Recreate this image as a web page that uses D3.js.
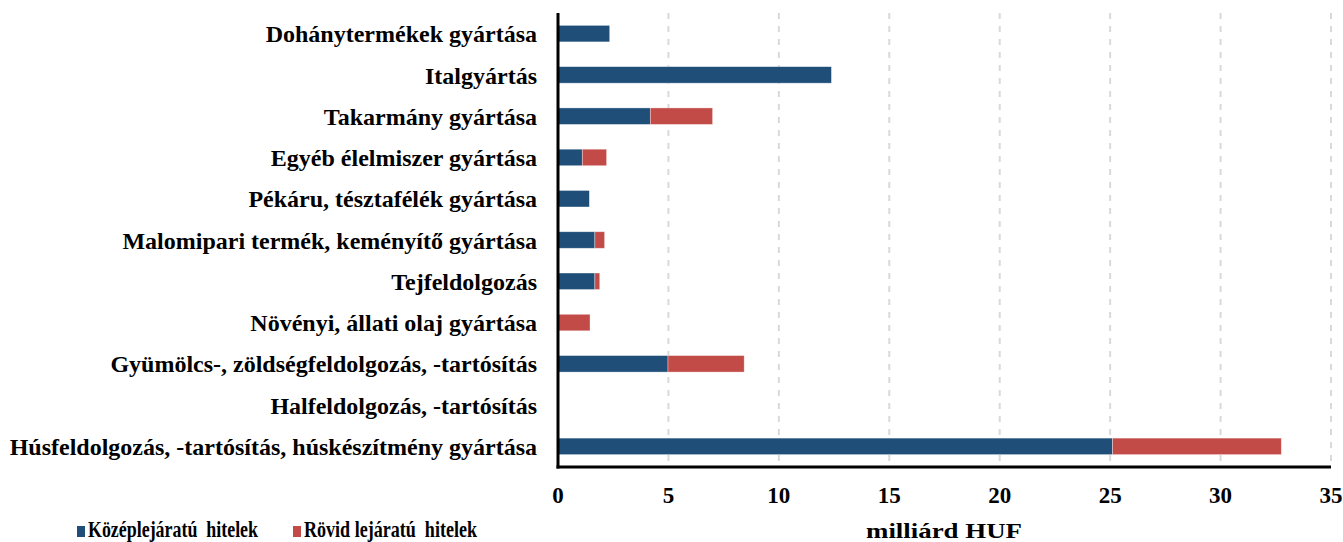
<!DOCTYPE html>
<html>
<head>
<meta charset="utf-8">
<script src="https://cdn.jsdelivr.net/npm/d3@7.9.0/dist/d3.min.js"></script>
<style>
  body { margin: 0; background: #fff; }
  svg text { font-family: "Liberation Serif", "Times New Roman", serif; font-weight: bold; fill: #000; }
</style>
</head>
<body>
<svg id="chart" width="1343" height="542"></svg>
<script>
// categories top to bottom
const categories = [
  'Dohánytermékek gyártása',
  'Italgyártás',
  'Takarmány gyártása',
  'Egyéb élelmiszer gyártása',
  'Pékáru, tésztafélék gyártása',
  'Malomipari termék, keményítő gyártása',
  'Tejfeldolgozás',
  'Növényi, állati olaj gyártása',
  'Gyümölcs-, zöldségfeldolgozás, -tartósítás',
  'Halfeldolgozás, -tartósítás',
  'Húsfeldolgozás, -tartósítás, húskészítmény gyártása'
];
const kozepValues = [2.34, 12.38, 4.18, 1.10, 1.42, 1.67, 1.67, 0, 4.98, 0, 25.11];
const rovidValues = [0, 0, 2.82, 1.10, 0, 0.44, 0.22, 1.45, 3.45, 0, 7.64];
const seriesNames = ['Középlejáratú  hitelek', 'Rövid lejáratú  hitelek'];
const seriesColors = ['#1f4e79', '#c34b47'];
const xTicks = [0, 5, 10, 15, 20, 25, 30, 35];

const svg = d3.select('#chart');
const plotLeft = 558, plotRight = 1331, plotTop = 13, plotBottom = 467;

const x = d3.scaleLinear().domain([0, 35]).range([plotLeft, plotRight]);
const y = d3.scaleBand().domain(categories).range([plotTop, plotBottom]).paddingInner(0.6).paddingOuter(0.3);

// gridlines
svg.append('g')
  .selectAll('line')
  .data(xTicks.filter(d => d > 0))
  .join('line')
  .attr('x1', d => x(d)).attr('x2', d => x(d))
  .attr('y1', plotTop).attr('y2', plotBottom)
  .attr('stroke', '#d9d9d9')
  .attr('stroke-width', 2)
  .attr('stroke-dasharray', '6,7');

// stacked bars
const rows = categories.map((c, i) => ({ cat: c, k: kozepValues[i], r: rovidValues[i] }));
const stack = d3.stack().keys(['k', 'r'])(rows);

svg.append('g')
  .selectAll('g')
  .data(stack)
  .join('g')
  .attr('fill', (d, i) => seriesColors[i])
  .selectAll('rect')
  .data(d => d.filter(s => s[1] - s[0] > 0))
  .join('rect')
  .attr('x', d => x(d[0]))
  .attr('y', d => y(d.data.cat))
  .attr('width', d => x(d[1]) - x(d[0]))
  .attr('height', y.bandwidth())
  .attr('stroke', 'rgba(255,255,255,0.5)')
  .attr('stroke-width', 0.7);

// axes lines
svg.append('line')
  .attr('x1', plotLeft).attr('x2', plotLeft)
  .attr('y1', plotTop).attr('y2', plotBottom + 1.5)
  .attr('stroke', '#000').attr('stroke-width', 3);
svg.append('line')
  .attr('x1', plotLeft - 1.5).attr('x2', plotRight)
  .attr('y1', plotBottom).attr('y2', plotBottom)
  .attr('stroke', '#000').attr('stroke-width', 3);

// x tick labels
svg.append('g')
  .selectAll('text')
  .data(xTicks)
  .join('text')
  .attr('x', d => x(d))
  .attr('y', 503)
  .attr('text-anchor', 'middle')
  .style('font-size', '23px')
  .text(d => d);

// category labels
svg.append('g')
  .selectAll('text')
  .data(categories)
  .join('text')
  .attr('x', 537)
  .attr('y', d => y(d) + y.bandwidth() / 2)
  .attr('dy', '0.36em')
  .attr('text-anchor', 'end')
  .style('font-size', '24px')
  .text(d => d);

// axis title
svg.append('text')
  .attr('x', 944)
  .attr('y', 538)
  .attr('text-anchor', 'middle')
  .style('font-size', '22px')
  .attr('textLength', 156)
  .attr('lengthAdjust', 'spacingAndGlyphs')
  .text('milliárd HUF');

// legend
const legendX = [77, 293];
const legendW = [170, 173];
const legend = svg.append('g')
  .selectAll('g')
  .data(seriesNames)
  .join('g')
  .attr('transform', (d, i) => `translate(${legendX[i]},0)`);
legend.append('rect')
  .attr('x', 0).attr('y', 526)
  .attr('width', 8).attr('height', 11)
  .attr('fill', (d, i) => seriesColors[i]);
legend.append('text')
  .attr('x', 11).attr('y', 537)
  .style('font-size', '24px')
  .style('white-space', 'pre')
  .attr('textLength', (d, i) => legendW[i])
  .attr('lengthAdjust', 'spacingAndGlyphs')
  .text(d => d);
</script>
</body>
</html>
